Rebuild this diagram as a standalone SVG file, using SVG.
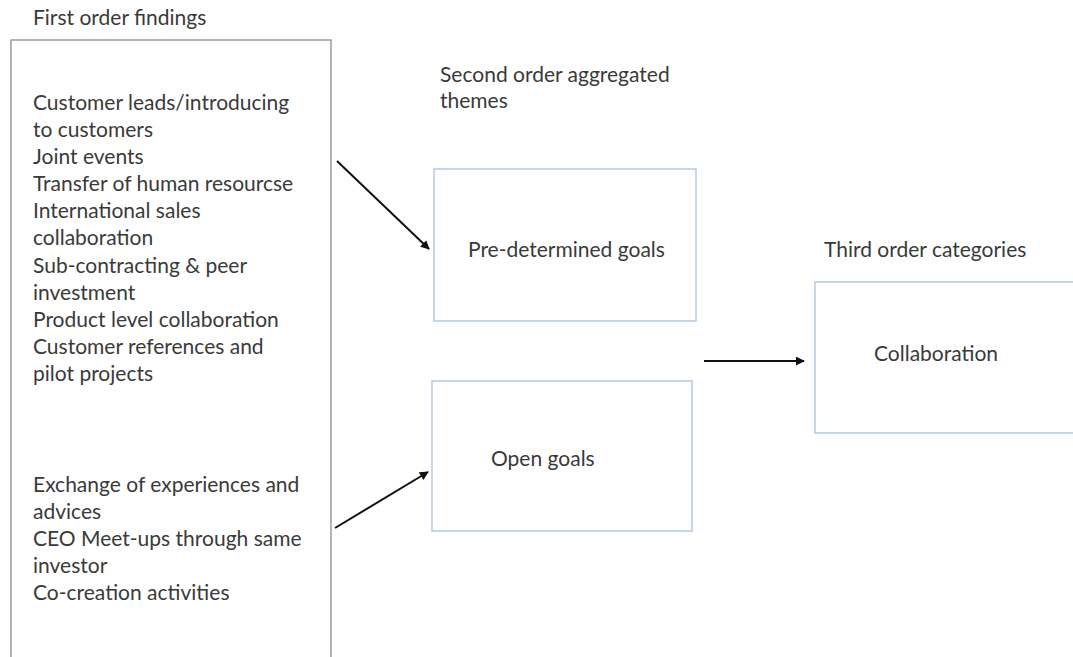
<svg xmlns="http://www.w3.org/2000/svg" width="1073" height="657" viewBox="0 0 1073 657">
  <style>
    text { font-family: Lato, "Open Sans", "Liberation Sans", sans-serif; font-size: 21px; fill: #3a3a3a; }
    .outer { fill: #ffffff; stroke: #8c8c8c; stroke-width: 1.3; }
    .box { fill: #ffffff; stroke: #a9c0dc; stroke-width: 1.3; }
    .conn { stroke: #111111; stroke-width: 2; fill: none; marker-end: url(#head); }
  </style>
  <defs>
    <marker id="head" viewBox="0 0 10 10" refX="9" refY="5" markerWidth="4.5" markerHeight="4.5" orient="auto" markerUnits="strokeWidth">
      <path d="M0,0 L10,5 L0,10 z" fill="#111111"/>
    </marker>
  </defs>
  <rect width="1073" height="657" fill="#ffffff"/>

  <!-- column headings -->
  <g id="headings">
    <text x="33" y="25">First order findings</text>
    <text x="440" y="82">Second order aggregated</text>
    <text x="440" y="108">themes</text>
    <text x="824" y="257">Third order categories</text>
  </g>

  <!-- first order findings list -->
  <g id="findings">
    <rect class="outer" x="11" y="40" width="320" height="640"/>
    <text x="33" y="110">Customer leads/introducing</text>
    <text x="33" y="137">to customers</text>
    <text x="33" y="164">Joint events</text>
    <text x="33" y="191">Transfer of human resourcse</text>
    <text x="33" y="218">International sales</text>
    <text x="33" y="245">collaboration</text>
    <text x="33" y="273">Sub-contracting &amp; peer</text>
    <text x="33" y="300">investment</text>
    <text x="33" y="327">Product level collaboration</text>
    <text x="33" y="354">Customer references and</text>
    <text x="33" y="381">pilot projects</text>
    <text x="33" y="492">Exchange of experiences and</text>
    <text x="33" y="519">advices</text>
    <text x="33" y="546">CEO Meet-ups through same</text>
    <text x="33" y="573">investor</text>
    <text x="33" y="600">Co-creation activities</text>
  </g>

  <!-- second order themes -->
  <g id="predetermined">
    <rect class="box" x="434" y="169" width="262" height="152"/>
    <text x="468" y="257">Pre-determined goals</text>
  </g>
  <g id="open">
    <rect class="box" x="432" y="381" width="260" height="150"/>
    <text x="491" y="466">Open goals</text>
  </g>

  <!-- third order category -->
  <g id="collaboration">
    <rect class="box" x="815" y="282" width="300" height="151"/>
    <text x="874" y="361">Collaboration</text>
  </g>

  <!-- connectors -->
  <g id="connectors">
    <line class="conn" x1="337" y1="161" x2="429" y2="249"/>
    <line class="conn" x1="335" y1="528" x2="428" y2="472"/>
    <line class="conn" x1="704" y1="361" x2="804" y2="361"/>
  </g>
</svg>
